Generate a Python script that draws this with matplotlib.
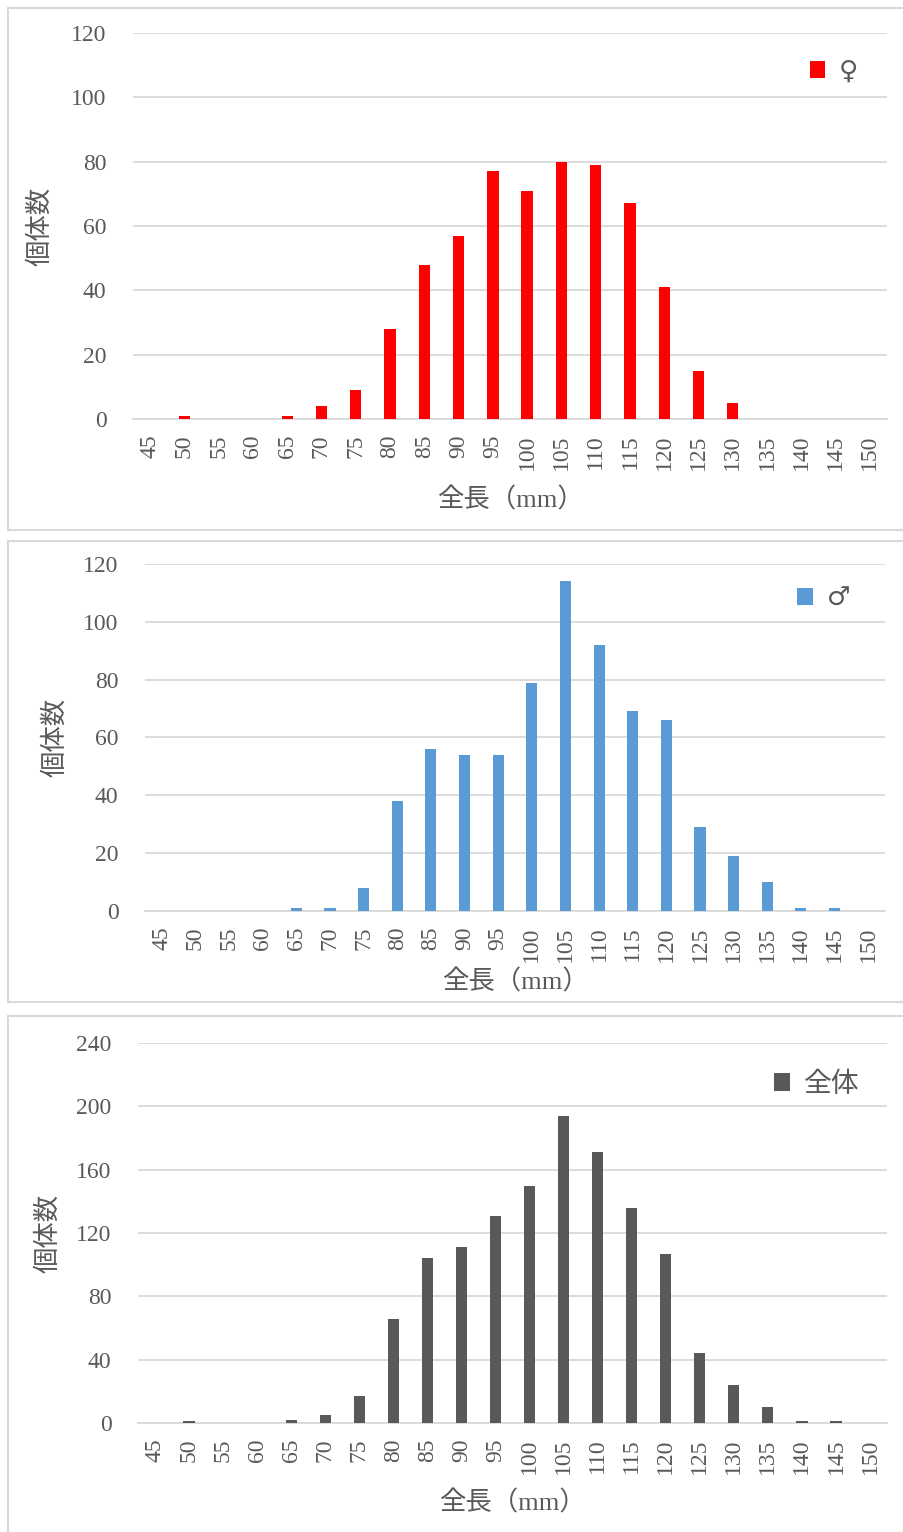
import numpy as np
import matplotlib.pyplot as plt
from matplotlib.patches import Rectangle

plt.rcParams['font.family'] = ['Liberation Serif', 'Noto Sans CJK JP', 'DejaVu Sans']

# 全長の階級（mm）
zencho = [45, 50, 55, 60, 65, 70, 75, 80, 85, 90, 95, 100, 105, 110, 115, 120, 125, 130, 135, 140, 145, 150]
# 個体数
mesu = [0, 1, 0, 0, 1, 4, 9, 28, 48, 57, 77, 71, 80, 79, 67, 41, 15, 5, 0, 0, 0, 0]
osu = [0, 0, 0, 0, 1, 1, 8, 38, 56, 54, 54, 79, 114, 92, 69, 66, 29, 19, 10, 1, 1, 0]
zentai = [0, 1, 0, 0, 2, 5, 17, 66, 104, 111, 131, 150, 194, 171, 136, 107, 44, 24, 10, 1, 1, 0]

W, H = 904, 1532
GRIS = '#595959'

fig = plt.figure(figsize=(W / 100, H / 100), dpi=100)


def marco(y0, y1):
    # borde gris de cada gráfico (coordenadas en píxeles)
    fig.add_artist(Rectangle((8 / W, 1 - y1 / H), (W - 8) / W, (y1 - y0) / H,
                             transform=fig.transFigure, fill=False,
                             edgecolor='#d9d9d9', linewidth=1.5))


def grafico(datos, color, etiqueta, caja, ymax, paso, xlabel_y, ylabel_x, ley, ley_size):
    left, right, top, bottom = caja
    ax = fig.add_axes([left / W, 1 - bottom / H, (right - left) / W, (bottom - top) / H])
    x = np.arange(len(zencho))
    ax.bar(x, datos, width=0.33, color=color, label=etiqueta, zorder=3)
    ax.set_xlim(-0.5, len(zencho) - 0.5)
    ax.set_ylim(0, ymax)
    ax.set_yticks(np.arange(0, ymax + 1, paso))
    ax.set_xticks(x)
    ax.set_xticklabels([str(v) for v in zencho], rotation=90)
    ax.tick_params(axis='both', length=0, labelsize=17, colors=GRIS)
    ax.tick_params(axis='y', pad=19)
    ax.tick_params(axis='x', pad=11)
    ax.grid(axis='y', color='#d9d9d9', linewidth=1.3, zorder=0)
    for s in ['top', 'right', 'left']:
        ax.spines[s].set_visible(False)
    ax.spines['bottom'].set_color('#d9d9d9')
    ax.spines['bottom'].set_linewidth(1.3)
    fig.text(ylabel_x / W, 1 - (top + bottom) / 2 / H, '個体数', rotation=90,
             ha='center', va='center', fontsize=19, color=GRIS)
    fig.text((left + right) / 2 / W, 1 - xlabel_y / H, '全長（mm）',
             ha='center', va='center', fontsize=19, color=GRIS)
    leg = ax.legend(loc='upper right', bbox_to_anchor=ley, frameon=False,
                    handlelength=0.6, handleheight=0.6, handletextpad=0.5,
                    prop={'family': ['DejaVu Sans', 'Noto Sans CJK JP'], 'size': ley_size})
    for t in leg.get_texts():
        t.set_color(GRIS)
    return ax


marco(8, 530)
grafico(mesu, '#ff0000', '♀', (133, 887, 33, 419), 120, 20, 500, 40, (0.993, 0.995), 19)

marco(541, 1002)
grafico(osu, '#5b9bd5', '♂', (145, 885, 564, 911), 120, 20, 982, 55, (0.985, 1.005), 19)

marco(1016, 1540)
grafico(zentai, '#595959', '全体', (138, 887, 1043, 1423), 240, 40, 1503, 48, (0.997, 0.995), 20)

plt.savefig('out.png', dpi=100)
